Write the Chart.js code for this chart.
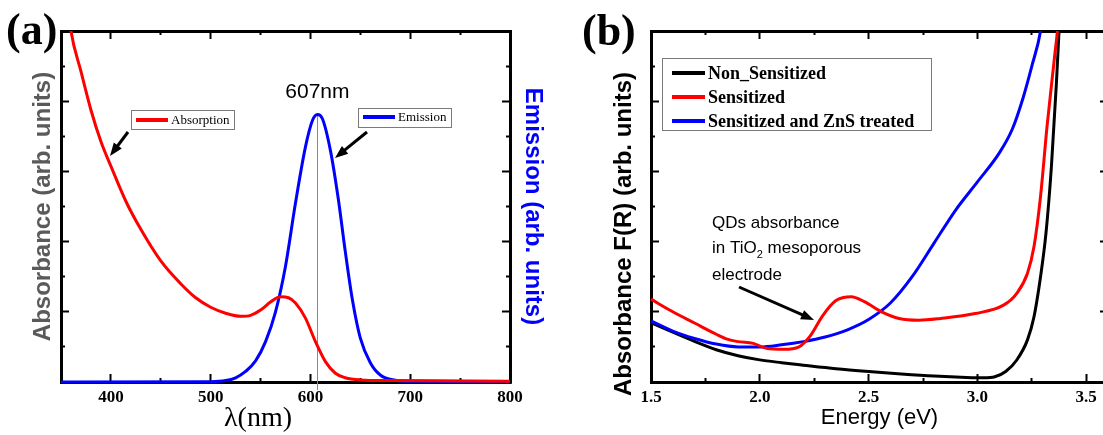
<!DOCTYPE html>
<html>
<head>
<meta charset="utf-8">
<script src="https://cdn.jsdelivr.net/npm/chart.js@4.4.1/dist/chart.umd.min.js"></script>
<style>
  html, body { margin: 0; padding: 0; background: #fff; overflow: hidden; width: 1103px; height: 435px; }
  #chartA { position: absolute; left: 0; top: 0; }
  #chartB { position: absolute; left: 560px; top: 0; }
</style>
</head>
<body>
<canvas id="chartA" width="560" height="435"></canvas>
<canvas id="chartB" width="600" height="435"></canvas>
<script>
// (a) absorption and emission of the QDs
const absWavelength = [355, 360, 370, 380, 390, 400, 415, 430, 450, 470, 485, 500, 515, 530, 540, 550, 560, 570, 578, 585, 595, 605, 615, 625, 635, 650, 680, 800];
const absValue      = [1.12, 1.0, 0.885, 0.775, 0.685, 0.615, 0.515, 0.435, 0.345, 0.28, 0.24, 0.213, 0.196, 0.187, 0.19, 0.205, 0.228, 0.243, 0.24, 0.225, 0.182, 0.115, 0.058, 0.025, 0.012, 0.006, 0.004, 0.002];
const emWavelength = [350, 500, 515, 525, 535, 545, 555, 565, 575, 585, 595, 602, 607, 612, 620, 628, 635, 642, 650, 660, 670, 685, 700, 800];
const emValue      = [0, 0.001, 0.004, 0.012, 0.03, 0.06, 0.115, 0.2, 0.33, 0.51, 0.67, 0.745, 0.762, 0.75, 0.66, 0.52, 0.37, 0.235, 0.125, 0.055, 0.02, 0.005, 0.002, 0.001];
const peakWavelength = 607;
const peakValue = 0.762;
const wlTicks = [400, 500, 600, 700, 800];
const wlMinorTicks = [450, 550, 650, 750];

// (b) F(R) of the electrodes
const nonSensEnergy = [1.5, 1.6, 1.7, 1.8, 1.9, 2.0, 2.1, 2.2, 2.35, 2.5, 2.65, 2.8, 2.95, 3.03, 3.08, 3.13, 3.18, 3.23, 3.26, 3.29, 3.315, 3.34, 3.363, 3.375, 3.39];
const nonSensValue  = [0.169, 0.142, 0.116, 0.092, 0.075, 0.063, 0.055, 0.048, 0.038, 0.03, 0.023, 0.017, 0.013, 0.012, 0.015, 0.03, 0.062, 0.12, 0.186, 0.3, 0.424, 0.614, 0.852, 1.0, 1.2];
const sensEnergy = [1.5, 1.6, 1.7, 1.8, 1.85, 1.9, 1.97, 2.03, 2.11, 2.18, 2.23, 2.29, 2.35, 2.42, 2.48, 2.56, 2.64, 2.73, 2.83, 2.99, 3.12, 3.18, 3.23, 3.26, 3.29, 3.32, 3.355, 3.37, 3.385];
const sensValue  = [0.236, 0.2, 0.168, 0.136, 0.122, 0.115, 0.11, 0.096, 0.093, 0.1, 0.13, 0.19, 0.232, 0.243, 0.229, 0.2, 0.181, 0.176, 0.181, 0.195, 0.219, 0.252, 0.31, 0.386, 0.529, 0.729, 0.93, 1.02, 1.2];
const znsEnergy = [1.5, 1.6, 1.7, 1.8, 1.9, 2.0, 2.1, 2.2, 2.3, 2.4, 2.5, 2.6, 2.7, 2.8, 2.9, 3.0, 3.1, 3.16, 3.21, 3.25, 3.29, 3.31];
const znsValue  = [0.174, 0.145, 0.124, 0.108, 0.1, 0.1, 0.106, 0.115, 0.128, 0.148, 0.178, 0.225, 0.3, 0.395, 0.49, 0.57, 0.652, 0.72, 0.81, 0.9, 1.0, 1.1];
const energyTicks = [1.5, 2.0, 2.5, 3.0, 3.5];
const energyMinorTicks = [1.75, 2.25, 2.75, 3.25];

const yTicks = [0, 0.2, 0.4, 0.6, 0.8, 1.0];
const yMinorTicks = [0.1, 0.3, 0.5, 0.7, 0.9];

const SANS = 'Liberation Sans';
const SERIF = 'Liberation Serif';

function toPoints(xs, ys) {
  return xs.map(function (x, i) { return { x: x, y: ys[i] }; });
}

// axis used as one side of the frame, ticks point inwards
function frameAxis(position, min, max, values, size, minor) {
  const horizontal = position === 'top' || position === 'bottom';
  return {
    type: 'linear', position: position, min: min, max: max,
    weight: minor ? -1 : 0,
    afterBuildTicks: function (scale) { scale.ticks = values.map(function (v) { return { value: v }; }); },
    afterFit: function (scale) { if (horizontal) { scale.height = size; } else { scale.width = size; } },
    grid: { drawOnChartArea: false, tickLength: minor ? -4 : -8, tickWidth: 2, tickColor: '#000' },
    border: { display: !minor, color: '#000', width: 3 },
    ticks: { display: false }
  };
}

function tickLabels(decimals) {
  return {
    display: true, color: '#000', padding: 13, autoSkip: false, maxRotation: 0,
    font: { family: SERIF, size: 17, weight: 'bold' },
    callback: function (v) { return Number(v).toFixed(decimals); }
  };
}

function line(label, xs, ys, color, xID, yID, order) {
  return {
    label: label, data: toPoints(xs, ys), borderColor: color, borderWidth: 3,
    pointRadius: 0, fill: false, cubicInterpolationMode: 'monotone',
    xAxisID: xID, yAxisID: yID, order: order,
    clip: { left: 4, right: 4, top: 0, bottom: 4 }
  };
}

function drawText(ctx, str, x, y, font, color, align, rotation) {
  ctx.save();
  ctx.translate(x, y);
  if (rotation) ctx.rotate(rotation);
  ctx.font = font;
  ctx.fillStyle = color;
  ctx.textAlign = align || 'left';
  ctx.textBaseline = 'middle';
  ctx.fillText(str, 0, 0);
  ctx.restore();
}

function drawArrow(ctx, x1, y1, x2, y2) {
  const a = Math.atan2(y2 - y1, x2 - x1);
  const c = Math.cos(a), s = Math.sin(a);
  ctx.save();
  ctx.strokeStyle = '#000';
  ctx.fillStyle = '#000';
  ctx.lineWidth = 3;
  ctx.beginPath();
  ctx.moveTo(x1, y1);
  ctx.lineTo(x2 - 10 * c, y2 - 10 * s);
  ctx.stroke();
  ctx.beginPath();
  ctx.moveTo(x2, y2);
  ctx.lineTo(x2 - 13 * c + 5 * s, y2 - 13 * s - 5 * c);
  ctx.lineTo(x2 - 13 * c - 5 * s, y2 - 13 * s + 5 * c);
  ctx.closePath();
  ctx.fill();
  ctx.restore();
}

function drawLegend(ctx, box, rows, font) {
  ctx.save();
  ctx.fillStyle = '#fff';
  ctx.fillRect(box[0], box[1], box[2], box[3]);
  ctx.strokeStyle = '#7a7a7a';
  ctx.lineWidth = 1;
  ctx.strokeRect(box[0] + 0.5, box[1] + 0.5, box[2], box[3]);
  rows.forEach(function (r) {
    ctx.strokeStyle = r.color;
    ctx.lineWidth = 4;
    ctx.beginPath();
    ctx.moveTo(r.x, r.y);
    ctx.lineTo(r.x + r.len, r.y);
    ctx.stroke();
    drawText(ctx, r.label, r.x + r.len + 3, r.y + 1, font, '#000', 'left');
  });
  ctx.restore();
}

// ---------- (a) ----------
const xA = frameAxis('bottom', 350, 800, wlTicks, 53, false);
xA.ticks = tickLabels(0);
const yA = frameAxis('left', 0, 1, yTicks, 61, false);
yA.title = { display: true, text: 'Absorbance (arb. units)', color: '#5a5a5a',
  font: { family: SANS, size: 24, weight: 'bold', lineHeight: 1 }, padding: { top: 31, bottom: 0 } };
const y2A = frameAxis('right', 0, 1, yTicks, 50, false);
y2A.title = { display: true, text: 'Emission (arb. units)', color: '#0000ff',
  font: { family: SANS, size: 24, weight: 'bold', lineHeight: 1 }, padding: { top: 15, bottom: 0 } };

const annotateA = {
  id: 'annotateA',
  beforeDatasetsDraw: function (chart) {
    const ctx = chart.ctx;
    const px = chart.scales.x.getPixelForValue(peakWavelength);
    ctx.save();
    ctx.strokeStyle = '#8a8a8a';
    ctx.lineWidth = 1;
    ctx.beginPath();
    ctx.moveTo(Math.round(px) + 0.5, chart.scales.y2.getPixelForValue(peakValue));
    ctx.lineTo(Math.round(px) + 0.5, chart.chartArea.bottom + 8);
    ctx.stroke();
    ctx.restore();
  },
  afterDraw: function (chart) {
    const ctx = chart.ctx;
    const px = chart.scales.x.getPixelForValue(peakWavelength);
    const py = chart.scales.y2.getPixelForValue(peakValue);
    drawText(ctx, peakWavelength + 'nm', px, py - 22, '21px ' + SANS, '#000', 'center');
    drawText(ctx, '(a)', 6, 33, 'bold 44px ' + SERIF, '#000', 'left');
    drawText(ctx, 'λ(nm)', 258, 419, '28px ' + SERIF, '#000', 'center');
    drawLegend(ctx, [131, 110, 103, 19], [{ color: '#ff0000', label: 'Absorption', x: 136, y: 120, len: 32 }], '13px ' + SERIF);
    drawLegend(ctx, [358, 108, 93, 19], [{ color: '#0000ff', label: 'Emission', x: 363, y: 117, len: 32 }], '13px ' + SERIF);
    drawArrow(ctx, 128, 132, 110, 156);
    drawArrow(ctx, 367, 132, 335, 158);
  }
};

new Chart(document.getElementById('chartA'), {
  type: 'line',
  data: {
    datasets: [
      line('Absorption', absWavelength, absValue, '#ff0000', 'x', 'y', 1),
      line('Emission', emWavelength, emValue, '#0000ff', 'x', 'y2', 2)
    ]
  },
  options: {
    responsive: false, animation: false, devicePixelRatio: 1,
    layout: { padding: 0 },
    plugins: { legend: { display: false }, tooltip: { enabled: false } },
    scales: {
      x: xA,
      xMinor: frameAxis('bottom', 350, 800, wlMinorTicks, 0, true),
      xTop: frameAxis('top', 350, 800, wlTicks, 31, false),
      xTopMinor: frameAxis('top', 350, 800, wlMinorTicks, 0, true),
      y: yA,
      yMinor: frameAxis('left', 0, 1, yMinorTicks, 0, true),
      y2: y2A,
      y2Minor: frameAxis('right', 0, 1, yMinorTicks, 0, true)
    }
  },
  plugins: [annotateA]
});

// ---------- (b) ----------
const xB = frameAxis('bottom', 1.5, 3.6, energyTicks, 53, false);
xB.ticks = tickLabels(1);
xB.title = { display: true, text: 'Energy (eV)', color: '#000',
  font: { family: SANS, size: 22, lineHeight: 1 }, padding: { top: 0, bottom: 6 } };

const annotateB = {
  id: 'annotateB',
  afterDraw: function (chart) {
    const ctx = chart.ctx;
    drawText(ctx, '(b)', 22, 34, 'bold 44px ' + SERIF, '#000', 'left');
    drawText(ctx, 'Absorbance F(R) (arb. units)', 64, 234, 'bold 24px ' + SANS, '#000', 'center', -Math.PI / 2);
    drawLegend(ctx, [102, 58, 269, 72], [
      { color: '#000000', label: 'Non_Sensitized', x: 112, y: 73, len: 33 },
      { color: '#ff0000', label: 'Sensitized', x: 112, y: 97, len: 33 },
      { color: '#0000ff', label: 'Sensitized and ZnS treated', x: 112, y: 121, len: 33 }
    ], 'bold 18px ' + SERIF);
    const f = '17px ' + SANS;
    drawText(ctx, 'QDs absorbance', 152, 223, f, '#000', 'left');
    ctx.save();
    ctx.font = f;
    const w1 = ctx.measureText('in TiO').width;
    ctx.font = '11px ' + SANS;
    const w2 = ctx.measureText('2').width;
    ctx.restore();
    drawText(ctx, 'in TiO', 152, 248, f, '#000', 'left');
    drawText(ctx, '2', 152 + w1, 255, '11px ' + SANS, '#000', 'left');
    drawText(ctx, ' mesoporous', 152 + w1 + w2, 248, f, '#000', 'left');
    drawText(ctx, 'electrode', 152, 275, f, '#000', 'left');
    drawArrow(ctx, 179, 287, 254, 320);
  }
};

new Chart(document.getElementById('chartB'), {
  type: 'line',
  data: {
    datasets: [
      line('Non_Sensitized', nonSensEnergy, nonSensValue, '#000000', 'x', 'y', 3),
      line('Sensitized', sensEnergy, sensValue, '#ff0000', 'x', 'y', 1),
      line('Sensitized and ZnS treated', znsEnergy, znsValue, '#0000ff', 'x', 'y', 2)
    ]
  },
  options: {
    responsive: false, animation: false, devicePixelRatio: 1,
    layout: { padding: 0 },
    plugins: { legend: { display: false }, tooltip: { enabled: false } },
    scales: {
      x: xB,
      xMinor: frameAxis('bottom', 1.5, 3.6, energyMinorTicks, 0, true),
      xTop: frameAxis('top', 1.5, 3.6, energyTicks, 31, false),
      xTopMinor: frameAxis('top', 1.5, 3.6, energyMinorTicks, 0, true),
      y: frameAxis('left', 0, 1, yTicks, 91, false),
      yMinor: frameAxis('left', 0, 1, yMinorTicks, 0, true),
      y2: frameAxis('right', 0, 1, yTicks, 52, false),
      y2Minor: frameAxis('right', 0, 1, yMinorTicks, 0, true)
    }
  },
  plugins: [annotateB]
});
</script>
</body>
</html>
